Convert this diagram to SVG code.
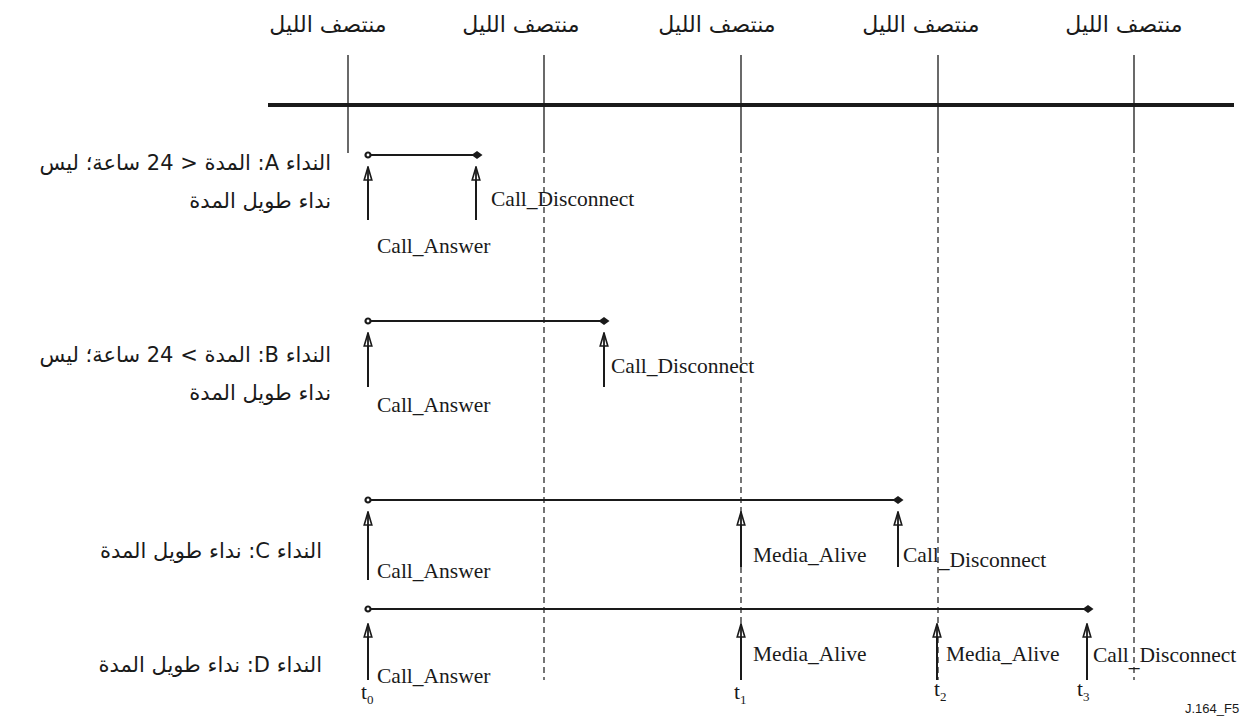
<svg xmlns="http://www.w3.org/2000/svg" width="1258" height="724" viewBox="0 0 1258 724">
  <style>
    .ar { font-family: "DejaVu Sans", "Noto Sans", sans-serif; font-size: 21px; fill: #1a1a1a; }
    .top { font-size: 22px; }
    .lat { font-family: "Liberation Serif", "Times New Roman", serif; font-size: 21.5px; fill: #1a1a1a; }
    .sub { font-size: 13px; }
    .fig { font-family: "Liberation Sans", Arial, sans-serif; font-size: 13px; fill: #1a1a1a; }
    .mid { stroke: #1a1a1a; stroke-width: 1.3; fill: none; }
    .dash { stroke: #1a1a1a; stroke-width: 1.2; stroke-dasharray: 6 4; fill: none; }
    .axis { stroke: #1a1a1a; stroke-width: 4; fill: none; }
    .span { stroke: #1a1a1a; stroke-width: 2; fill: none; }
    .evt { stroke: #1a1a1a; stroke-width: 2; fill: none; marker-end: url(#up); }
  </style>
  <defs>
    <!-- hollow arrowhead for event arrows -->
    <marker id="up" viewBox="0 0 15 10" refX="14" refY="5" markerWidth="15" markerHeight="10" markerUnits="userSpaceOnUse" orient="auto">
      <path d="M14,5 L1,1.2 L1,8.8 Z" fill="#fff" stroke="#1a1a1a" stroke-width="1.6" stroke-linejoin="miter"/>
      <path d="M1,5 L14,5" stroke="#1a1a1a" stroke-width="1.8"/>
    </marker>
    <g id="start-dot"><circle r="2.5" fill="#fff" stroke="#1a1a1a" stroke-width="2.2"/></g>
    <g id="end-dia"><path d="M-5.5,0 L0,-4 L5.5,0 L0,4 Z" fill="#1a1a1a"/></g>
  </defs>

  <!-- time axis and midnight marks -->
  <g id="axis">
    <line class="axis" x1="268" y1="105" x2="1234" y2="105"/>
    <text class="ar top" x="328" y="32" text-anchor="middle">منتصف الليل</text>
    <text class="ar top" x="521" y="32" text-anchor="middle">منتصف الليل</text>
    <text class="ar top" x="717" y="32" text-anchor="middle">منتصف الليل</text>
    <text class="ar top" x="921" y="32" text-anchor="middle">منتصف الليل</text>
    <text class="ar top" x="1124" y="32" text-anchor="middle">منتصف الليل</text>
  </g>

  <g id="connectors">
    <line class="mid" x1="348" y1="55" x2="348" y2="153"/>
    <line class="mid" x1="544" y1="55" x2="544" y2="153"/>
    <line class="mid" x1="741" y1="55" x2="741" y2="153"/>
    <line class="mid" x1="938" y1="55" x2="938" y2="153"/>
    <line class="mid" x1="1134" y1="55" x2="1134" y2="153"/>
    <line class="dash" x1="544" y1="157" x2="544" y2="680"/>
    <line class="dash" x1="741" y1="157" x2="741" y2="680"/>
    <line class="dash" x1="938" y1="157" x2="938" y2="680"/>
    <line class="dash" x1="1134" y1="157" x2="1134" y2="680"/>
  </g>

  <!-- call A -->
  <g id="call-a">
    <text class="ar" x="331" y="170" direction="rtl" text-anchor="start">النداء A: المدة &lt; 24 ساعة؛ ليس</text>
    <text class="ar" x="331" y="208" direction="rtl" text-anchor="start">نداء طويل المدة</text>
    <line class="span" x1="368" y1="155" x2="477" y2="155"/>
    <use href="#start-dot" x="368" y="155"/>
    <use href="#end-dia" x="477" y="155"/>
    <line class="evt" x1="368" y1="220" x2="368" y2="167"/>
    <line class="evt" x1="476" y1="220" x2="476" y2="167"/>
    <text class="lat" x="491" y="206">Call_Disconnect</text>
    <text class="lat" x="377" y="253">Call_Answer</text>
  </g>

  <!-- call B -->
  <g id="call-b">
    <text class="ar" x="331" y="362" direction="rtl" text-anchor="start">النداء B: المدة &gt; 24 ساعة؛ ليس</text>
    <text class="ar" x="331" y="400" direction="rtl" text-anchor="start">نداء طويل المدة</text>
    <line class="span" x1="368" y1="321" x2="604" y2="321"/>
    <use href="#start-dot" x="368" y="321"/>
    <use href="#end-dia" x="604" y="321"/>
    <line class="evt" x1="368" y1="387" x2="368" y2="333"/>
    <line class="evt" x1="604" y1="387" x2="604" y2="333"/>
    <text class="lat" x="611" y="373">Call_Disconnect</text>
    <text class="lat" x="377" y="412">Call_Answer</text>
  </g>

  <!-- call C -->
  <g id="call-c">
    <text class="ar" x="322" y="558" direction="rtl" text-anchor="start">النداء C: نداء طويل المدة</text>
    <line class="span" x1="368" y1="500" x2="898" y2="500"/>
    <use href="#start-dot" x="368" y="500"/>
    <use href="#end-dia" x="898" y="500"/>
    <line class="evt" x1="368" y1="580" x2="368" y2="512"/>
    <line class="evt" x1="741" y1="567" x2="741" y2="512"/>
    <line class="evt" x1="898" y1="567" x2="898" y2="512"/>
    <text class="lat" x="377" y="578">Call_Answer</text>
    <text class="lat" x="753" y="562">Media_Alive</text>
    <text class="lat" x="903" y="562">Call<tspan dy="5">_Disconnect</tspan></text>
  </g>

  <!-- call D -->
  <g id="call-d">
    <text class="ar" x="322" y="672" direction="rtl" text-anchor="start">النداء D: نداء طويل المدة</text>
    <line class="span" x1="368" y1="609" x2="1088" y2="609"/>
    <use href="#start-dot" x="368" y="609"/>
    <use href="#end-dia" x="1088" y="609"/>
    <line class="evt" x1="368" y1="680" x2="368" y2="624"/>
    <line class="evt" x1="741" y1="680" x2="741" y2="624"/>
    <line class="evt" x1="937" y1="680" x2="937" y2="624"/>
    <line class="evt" x1="1087" y1="680" x2="1087" y2="624"/>
    <text class="lat" x="377" y="683">Call_Answer</text>
    <text class="lat" x="753" y="661">Media_Alive</text>
    <text class="lat" x="946" y="661">Media_Alive</text>
    <text class="lat" x="1093" y="662">Call<tspan dy="4">_</tspan><tspan dy="-4">Disconnect</tspan></text>
    <text class="lat" x="361" y="699">t<tspan class="sub" dy="5">0</tspan></text>
    <text class="lat" x="734" y="699">t<tspan class="sub" dy="5">1</tspan></text>
    <text class="lat" x="934" y="696">t<tspan class="sub" dy="5">2</tspan></text>
    <text class="lat" x="1077" y="696">t<tspan class="sub" dy="5">3</tspan></text>
  </g>

  <text class="fig" x="1185" y="713">J.164_F5</text>
</svg>
